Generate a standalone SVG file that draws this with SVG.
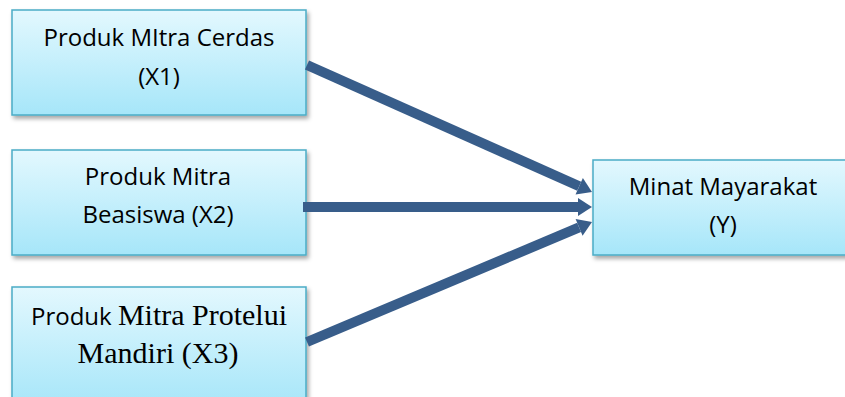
<svg xmlns="http://www.w3.org/2000/svg" width="845" height="397" viewBox="0 0 845 397">
<style>
.box{fill:url(#g);stroke:#4BACC6;stroke-width:1.5;filter:url(#sh)}
.t{font-family:"Open Sans","Liberation Sans",sans-serif;font-size:24px;fill:#000;text-anchor:middle}
.s{font-family:"Liberation Serif","Times New Roman",serif;font-size:30px}
.c{stroke:#385D8A;stroke-width:10;fill:none;marker-end:url(#ah)}
</style>
<defs>
<linearGradient id="g" x1="0" y1="0" x2="0" y2="1">
<stop offset="0" stop-color="#E3F8FE"/>
<stop offset="1" stop-color="#A6E6F9"/>
</linearGradient>
<filter id="sh" x="-10%" y="-10%" width="125%" height="130%">
<feDropShadow dx="2" dy="3" stdDeviation="2" flood-color="#000" flood-opacity="0.35"/>
</filter>
<marker id="ah" markerUnits="userSpaceOnUse" markerWidth="20" markerHeight="24" refX="0" refY="10" orient="auto" viewBox="0 0 20 20" overflow="visible">
<path d="M0,1 L14,10 L0,19 Z" fill="#385D8A"/>
</marker>
</defs>
<g id="x1">
<rect class="box" x="12" y="10" width="294" height="105"/>
<text class="t" x="159" y="46">Produk MItra Cerdas</text>
<text class="t" x="159" y="85">(X1)</text>
</g>
<g id="x2">
<rect class="box" x="12" y="150" width="294" height="105"/>
<text class="t" x="158" y="185">Produk Mitra</text>
<text class="t" x="158" y="223">Beasiswa (X2)</text>
</g>
<g id="x3">
<rect class="box" x="12" y="287" width="294" height="120"/>
<text class="t" x="159" y="325">Produk <tspan class="s">Mitra Protelui</tspan></text>
<text class="t s" x="158" y="363">Mandiri (X3)</text>
</g>
<g id="y">
<rect class="box" x="593" y="160" width="262" height="95"/>
<text class="t" x="723" y="195">Minat Mayarakat</text>
<text class="t" x="723" y="233">(Y)</text>
</g>
<g id="connectors">
<path class="c" d="M307,65 L579.2,186.3"/>
<path class="c" d="M303,207 L578,207"/>
<path class="c" d="M307,342 L579.1,227.4"/>
</g>
</svg>
